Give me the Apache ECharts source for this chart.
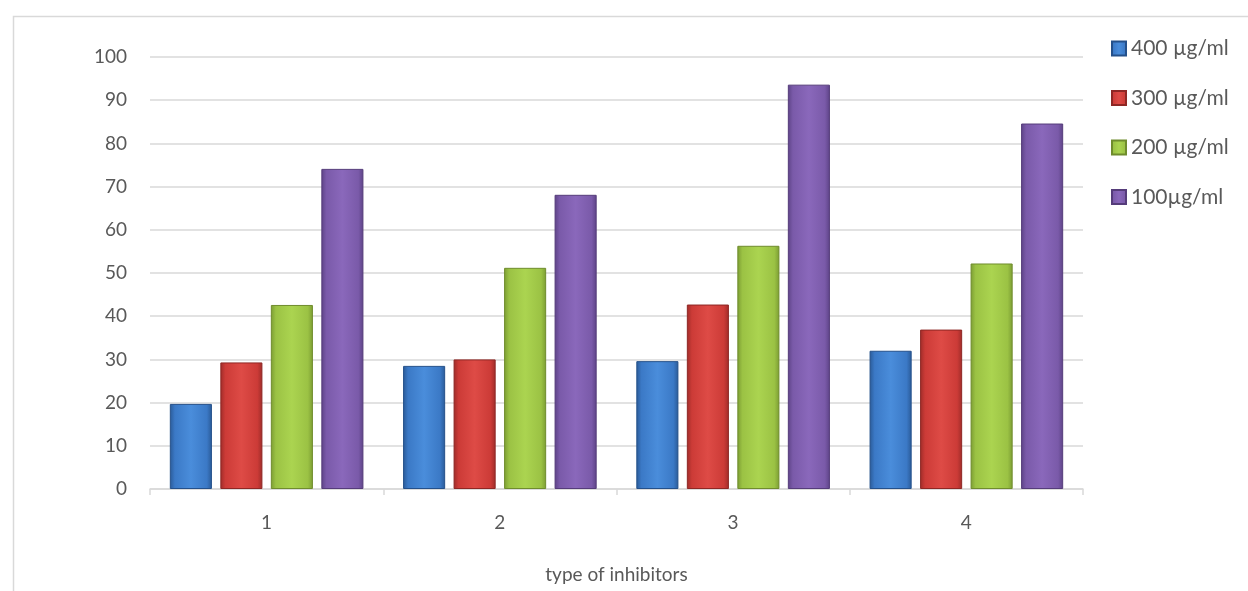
<!DOCTYPE html>
<html>
<head>
<meta charset="utf-8">
<script src="https://cdn.jsdelivr.net/npm/echarts@6/dist/echarts.min.js"></script>
<style>html,body{margin:0;padding:0;background:#fff;overflow:hidden;}#c{width:1248px;height:591px;}</style>
</head>
<body>
<div id="c"></div>
<script>
const categories = ['1', '2', '3', '4'];
const seriesNames = ['400 µg/ml', '300 µg/ml', '200 µg/ml', '100µg/ml'];
const s400 = [19.7, 28.5, 29.6, 32.0];
const s300 = [29.3, 30.0, 42.7, 36.9];
const s200 = [42.6, 51.2, 56.3, 52.2];
const s100 = [74.1, 68.1, 93.6, 84.6];
const yTicks = [0, 10, 20, 30, 40, 50, 60, 70, 80, 90, 100];

const palettes = [
  {light: '#4a8ddb', mid: '#3b79c6', dark: '#2a5a97', border: '#24508a'},
  {light: '#de4b46', mid: '#cc3b37', dark: '#9e2c29', border: '#8e2724'},
  {light: '#abd450', mid: '#9bc244', dark: '#7b9c33', border: '#6f8c2d'},
  {light: '#8a68bb', mid: '#7a5aa9', dark: '#5d4386', border: '#553c7a'}
];
function grad(p) {
  return new echarts.graphic.LinearGradient(0, 0, 1, 0, [
    {offset: 0, color: p.dark},
    {offset: 0.12, color: p.mid},
    {offset: 0.5, color: p.light},
    {offset: 0.88, color: p.mid},
    {offset: 1, color: p.dark}
  ]);
}
const dataSets = [s400, s300, s200, s100];
const chart = echarts.init(document.getElementById('c'));
const font = 'Lato, "Open Sans", sans-serif';
chart.setOption({
  animation: false,
  backgroundColor: '#fff',
  textStyle: {fontFamily: font},
  graphic: [{
    type: 'rect', left: 11, top: 14, z: -1, silent: true,
    shape: {width: 1400, height: 700},
    style: {fill: 'none', stroke: '#d9d9d9', lineWidth: 1.5}
  }],
  legend: {
    orient: 'vertical',
    left: 1106, top: 33,
    itemWidth: 14, itemHeight: 14, itemGap: 28.5,
    icon: 'rect',
    textStyle: {fontSize: 21, color: '#595959', fontFamily: font, padding: [0, 0, 0, 0]},
    data: seriesNames
  },
  grid: {left: 150, width: 933, top: 57, height: 432, containLabel: false},
  xAxis: {
    type: 'category',
    data: categories,
    name: 'type of inhibitors',
    nameLocation: 'middle',
    nameGap: 76,
    nameTextStyle: {fontSize: 19, color: '#595959'},
    axisLine: {lineStyle: {color: '#d9d9d9', width: 1.5}},
    axisTick: {show: true, length: 6, lineStyle: {color: '#d9d9d9', width: 1.5}},
    axisLabel: {fontSize: 19, color: '#595959', margin: 24}
  },
  yAxis: {
    type: 'value',
    min: 0, max: 100, interval: 10,
    axisLine: {show: false},
    axisTick: {show: false},
    axisLabel: {fontSize: 19, color: '#595959', margin: 23},
    splitLine: {lineStyle: {color: '#d9d9d9', width: 1.5}}
  },
  series: dataSets.map((d, i) => ({
    name: seriesNames[i],
    type: 'bar',
    data: d,
    barGap: '20%',
    barCategoryGap: '17%',
    itemStyle: {
      color: grad(palettes[i]),
      borderColor: palettes[i].border,
      borderWidth: 1
    }
  }))
});
</script>
</body>
</html>
